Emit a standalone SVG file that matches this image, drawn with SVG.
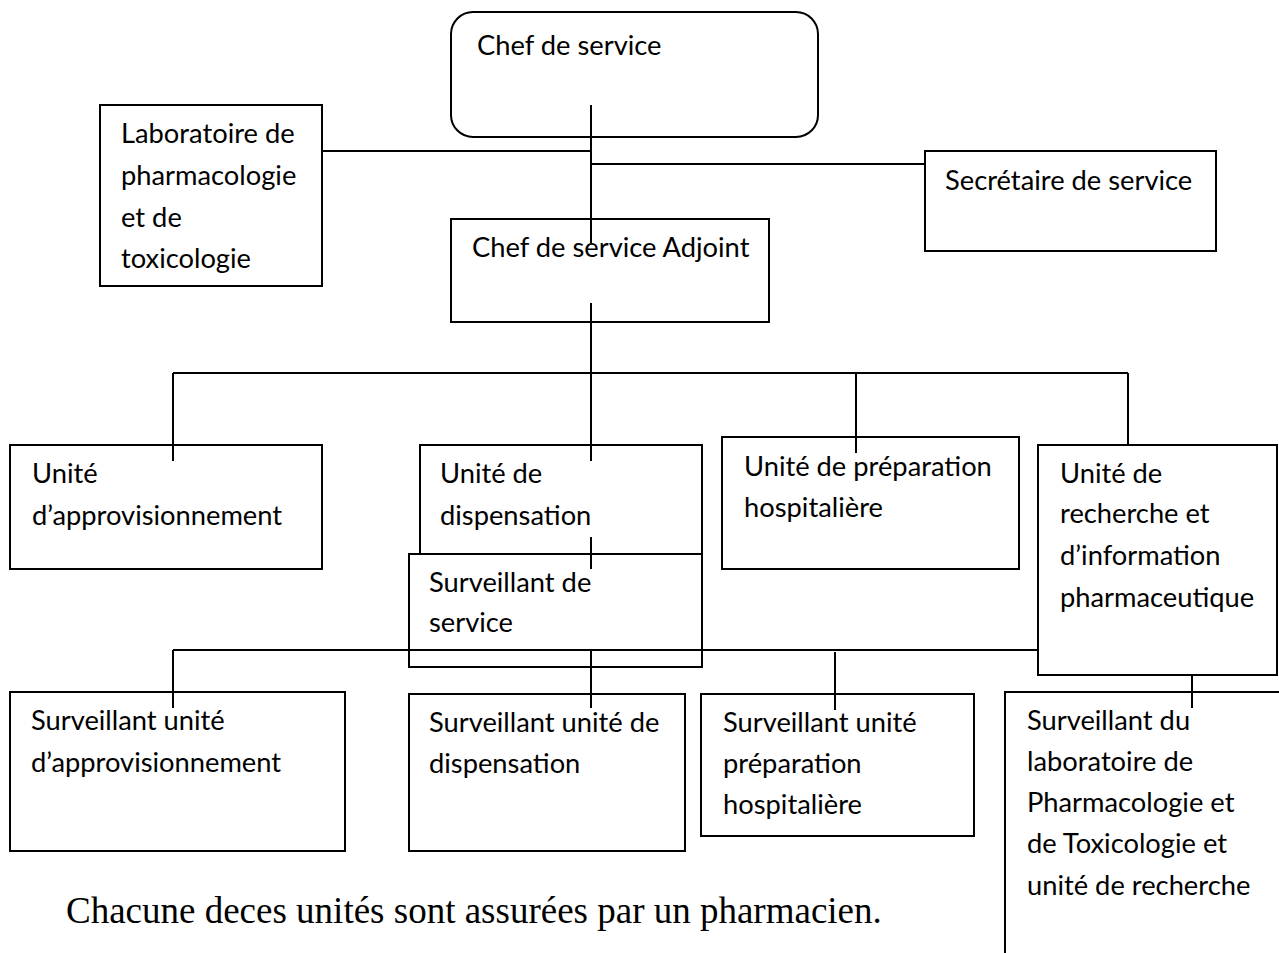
<svg xmlns="http://www.w3.org/2000/svg" width="1279" height="953" viewBox="0 0 1279 953">
<style>
.b{fill:#fff;stroke:#000;stroke-width:2}
.t{font-family:Lato,"Liberation Sans",sans-serif;font-size:27.3px;fill:#000}
.c{fill:none;stroke:#000;stroke-width:2}
.f{font-family:"Liberation Serif",serif;font-size:37px;fill:#000}
</style>
<rect width="1279" height="953" fill="#fff"/>
<g id="chef"><rect class="b" x="451" y="12" width="367" height="125" rx="22"/><text class="t" x="477" y="55">Chef de service</text></g>
<g id="labo"><rect class="b" x="100" y="105" width="222" height="181"/><text class="t" x="121" y="143">Laboratoire de</text><text class="t" x="121" y="185">pharmacologie</text><text class="t" x="121" y="227">et de</text><text class="t" x="121" y="268">toxicologie</text></g>
<g id="secretaire"><rect class="b" x="925" y="151" width="291" height="100"/><text class="t" x="945" y="190">Secrétaire de service</text></g>
<g id="adjoint"><rect class="b" x="451" y="219" width="318" height="103"/><text class="t" x="472" y="257">Chef de service Adjoint</text></g>
<g id="appro"><rect class="b" x="10" y="445" width="312" height="124"/><text class="t" x="32" y="483">Unité</text><text class="t" x="32" y="525">d’approvisionnement</text></g>
<g id="dispensation"><rect class="b" x="420" y="445" width="282" height="124"/><text class="t" x="440" y="483">Unité de</text><text class="t" x="440" y="525">dispensation</text></g>
<g id="surv-service"><rect class="b" x="409" y="554" width="293" height="113"/><text class="t" x="429" y="592">Surveillant de</text><text class="t" x="429" y="632">service</text></g>
<g id="preparation"><rect class="b" x="722" y="437" width="297" height="132"/><text class="t" x="744" y="476">Unité de préparation</text><text class="t" x="744" y="517">hospitalière</text></g>
<g id="recherche"><rect class="b" x="1038" y="445" width="239" height="230"/><text class="t" x="1060" y="483">Unité de</text><text class="t" x="1060" y="523">recherche et</text><text class="t" x="1060" y="565">d’information</text><text class="t" x="1060" y="607">pharmaceutique</text></g>
<g id="surv-appro"><rect class="b" x="10" y="692" width="335" height="159"/><text class="t" x="31" y="730">Surveillant unité</text><text class="t" x="31" y="772">d’approvisionnement</text></g>
<g id="surv-disp"><rect class="b" x="409" y="694" width="276" height="157"/><text class="t" x="429" y="732">Surveillant unité de</text><text class="t" x="429" y="773">dispensation</text></g>
<g id="surv-prep"><rect class="b" x="701" y="694" width="273" height="142"/><text class="t" x="723" y="732">Surveillant unité</text><text class="t" x="723" y="773">préparation</text><text class="t" x="723" y="814">hospitalière</text></g>
<g id="surv-labo"><path class="c" d="M1005 953 V692 H1279"/><text class="t" x="1027" y="730">Surveillant du</text><text class="t" x="1027" y="771">laboratoire de</text><text class="t" x="1027" y="812">Pharmacologie et</text><text class="t" x="1027" y="853">de Toxicologie et</text><text class="t" x="1027" y="895">unité de recherche</text></g>
<g id="connectors" class="c">
<path class="c" d="M591 105 V243"/>
<path class="c" d="M322 151 H591"/>
<path class="c" d="M591 164 H925"/>
<path class="c" d="M591 303 V461"/>
<path class="c" d="M173 373 H1128"/>
<path class="c" d="M173 373 V461"/>
<path class="c" d="M856 373 V453"/>
<path class="c" d="M1128 373 V445"/>
<path class="c" d="M591 537 V569"/>
<path class="c" d="M173 650 H1038"/>
<path class="c" d="M173 650 V708"/>
<path class="c" d="M591 650 V708"/>
<path class="c" d="M835 652 V710"/>
<path class="c" d="M1192 675 V708"/>
</g>
<text class="f" x="66" y="923">Chacune deces unités sont assurées par un pharmacien.</text>
</svg>
